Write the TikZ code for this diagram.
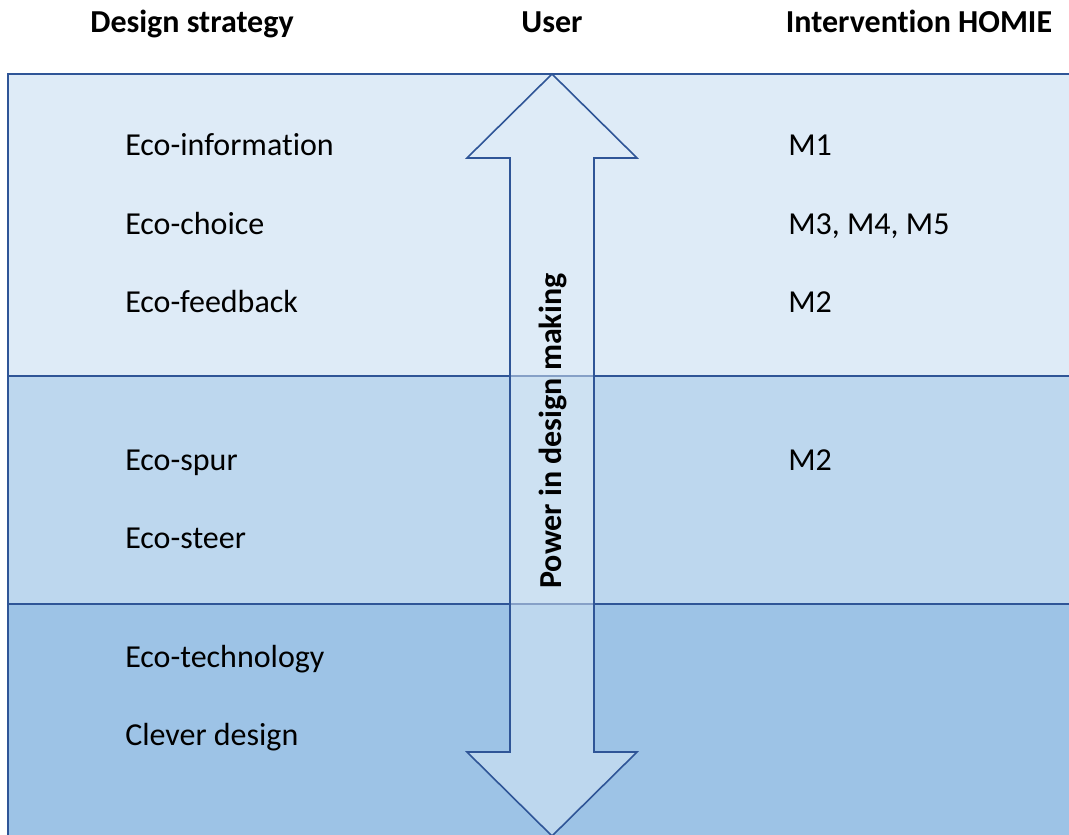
\documentclass[tikz,border=0pt]{standalone}
\usepackage{fontspec}
\setmainfont{Carlito}[Ligatures=NoCommon]
\usetikzlibrary{positioning}
\definecolor{bandtop}{HTML}{DEEBF7}
\definecolor{bandmid}{HTML}{BDD7EE}
\definecolor{bandlow}{HTML}{9DC3E6}
\definecolor{edgeblue}{HTML}{2F5597}
\tikzset{
	every node/.style={
		font=\fontsize{24}{28}\selectfont,
		inner sep=0pt
	},
	header/.style={
		font=\fontsize{24}{28}\selectfont\bfseries,
		anchor=base
	},
	item/.style={
		anchor=base west
	},
	band/.style={
		draw=edgeblue,
		line width=1.2pt
	},
	bigarrow/.style={
		draw=edgeblue,
		line width=1.2pt,
		fill=bandtop,
		fill opacity=0.5,
		line join=miter
	}
}

\begin{document}
\begin{tikzpicture}[x=0.75pt,y=-0.75pt]
		
		\useasboundingbox (0,0) rectangle (1069,834);
		\clip (0,0) rectangle (1069,834);
		
		% three bands
		\path[band,fill=bandtop] (8,74) rectangle (1090,376);
		\path[band,fill=bandmid] (8,376) rectangle (1090,604);
		\path[band,fill=bandlow] (8,604) rectangle (1090,860);
		
		% double arrow
		\path[bigarrow] (552,74) -- (637,158) -- (594,158) -- (594,752)
		-- (637,752) -- (552,836) -- (467,752) -- (510,752)
		-- (510,158) -- (467,158) -- cycle;
		
		\node[font=\fontsize{24}{28}\selectfont\bfseries, rotate=90] (power) at (553,431) {Power in design making};
		
		% column heads
		\node[header] (strategy) at (192,33) {Design strategy};
		\node[header] (user) at (552,33) {User};
		\node[header] (homie) at (919,33) {Intervention HOMIE};
		
		% strategies
		\node[item] (info) at (125,156) {Eco-information};
		\node (choice) [below=58.5pt of info.base west, item] {Eco-choice};
		\node (feedback) [below=58.5pt of choice.base west, item] {Eco-feedback};
		\node[item] (spur) at (125,470) {Eco-spur};
		\node (steer) [below=58.5pt of spur.base west, item] {Eco-steer};
		\node[item] (techno) at (125,667) {Eco-technology};
		\node (clever) [below=58.5pt of techno.base west, item] {Clever design};
		
		% interventions
		\node[item] (m1) at (788,156) {M1};
		\node (m345) [below=58.5pt of m1.base west, item] {M3, M4, M5};
		\node (m2) [below=58.5pt of m345.base west, item] {M2};
		\node[item] (m2b) at (788,470) {M2};
		
		\end{tikzpicture}
\end{document}
